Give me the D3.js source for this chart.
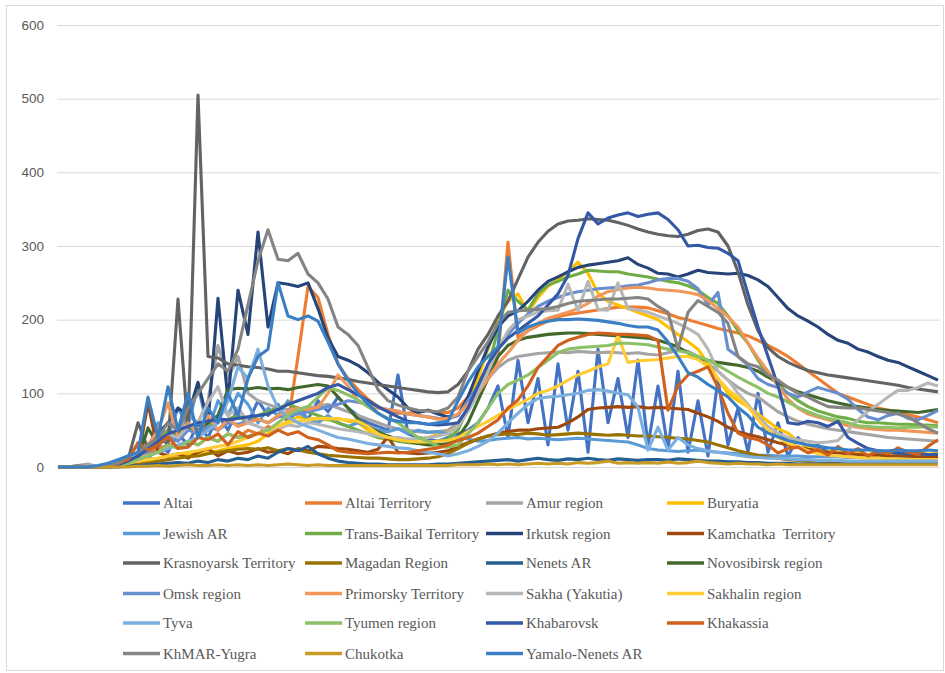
<!DOCTYPE html>
<html>
<head>
<meta charset="utf-8">
<script src="https://cdn.jsdelivr.net/npm/d3@7"></script>
<style>
  body { margin: 0; background: #fff; }
  svg text { fill: #595959; }
</style>
</head>
<body>
<div id="chart-container"></div>
<script>
const altai = [0,0,0,0,0,1,3,6,8,10, 30,20,45,30,60,40,70,50,80,60, 90,70,85,60,80,65,90,75,95,80, 70,60,55,50,125,45,40,38,35,40, 45,50,60,80,110,40,145,60,120,30, 140,50,130,20,160,60,120,40,145,30, 110,25,130,20,90,15,120,30,80,20, 100,20,60,15,40,25,30,20,25,18, 20,15,18,14,16,12,14,12,12];
const altaiTerritory = [0,0,0,0,0,2,5,10,15,20, 25,30,28,35,30,40,35,45,40,50, 45,55,50,60,150,245,230,180,140,120, 105,92,82,76,73,73,75,77,74,74, 80,95,115,135,150,305,176,185,192,198, 204,207,209,211,213,215,217,217,217,216, 212,208,203,200,196,192,188,185,182,178, 172,165,158,150,140,130,120,110,100,95, 90,85,80,77,74,71,68,64,60];
const amur = [0,0,2,4,0,2,5,12,20,30, 40,50,45,70,60,90,165,120,150,100, 90,85,80,78,75,80,82,85,80,75, 70,65,60,55,52,50,48,47,48,50, 60,80,100,120,135,145,150,152,154,155, 156,155,157,156,155,156,155,154,155,153, 152,155,158,157,150,140,130,118,108,100, 95,85,75,68,62,58,55,52,50,48, 46,44,42,40,39,38,37,36,35];
const buryatia = [0,0,0,0,0,2,4,6,8,10, 12,15,14,18,16,20,22,25,28,30, 35,45,55,62,68,66,65,64,66,62, 60,50,40,37,36,37,38,40,44,46, 55,80,120,160,200,225,235,210,230,245, 255,265,278,263,236,225,220,215,210,205, 200,190,180,170,160,140,120,100,90,82, 72,62,52,46,35,27,22,20,24,18, 20,16,22,18,20,15,22,17,20];
const jewishAR = [0,0,0,0,1,3,8,15,30,20, 60,40,80,55,110,50,90,70,100,85, 60,80,70,90,75,65,60,70,60,55, 60,55,50,48,52,45,50,47,48,45, 40,38,35,36,38,39,40,38,39,38, 37,38,39,38,37,36,35,34,30,25, 23,22,21,22,23,21,20,19,18,17, 16,16,15,15,15,14,14,14,14,13, 13,13,13,13,12,12,12,12,12];
const transBaikal = [0,0,0,0,0,1,3,8,15,25, 35,50,40,55,45,60,50,65,70,60, 70,75,80,85,80,75,70,65,60,55, 50,45,40,38,35,33,32,33,35,38, 50,80,110,136,186,240,225,213,235,247, 252,258,262,267,266,265,265,262,260,258, 255,252,250,246,240,230,222,205,185,168, 145,125,112,100,90,82,76,72,68,66, 62,60,60,59,58,58,57,57,56];
const irkutsk = [0,0,0,0,0,0,2,5,20,30, 45,60,80,70,115,60,229,90,240,180, 319,190,250,248,245,250,215,175,150,145, 138,128,115,105,95,80,74,77,72,68, 70,95,130,163,190,205,212,225,240,252, 258,265,271,274,276,278,280,284,275,270, 263,262,258,262,267,264,263,262,263,260, 254,245,230,215,205,198,190,180,172,168, 160,156,150,145,142,136,130,124,118];
const kamchatka = [0,0,0,0,0,0,2,5,10,87, 20,15,18,12,20,25,15,22,18,20, 25,20,22,18,25,22,28,27,25,24, 22,20,24,41,20,19,18,19,20,22, 28,33,38,42,46,48,50,50,52,53, 54,60,68,78,80,81,82,81,82,80, 81,80,79,78,73,68,62,54,48,44, 41,37,33,30,27,24,22,20,19,18, 17,16,16,15,15,15,14,14,14];
const krasnoyarsk = [0,0,0,0,0,1,3,10,60,25, 45,30,228,50,505,150,148,140,138,136, 135,133,130,130,128,126,124,123,121,119, 116,114,112,110,108,106,104,102,101,102, 112,130,160,180,205,225,255,285,305,320, 330,334,335,337,336,335,332,328,323,319, 316,314,313,316,321,323,319,300,265,220, 185,162,150,142,136,131,128,125,123,121, 119,117,115,113,111,108,106,104,102];
const magadan = [0,0,0,0,0,0,1,2,4,6, 8,10,12,14,15,18,20,22,24,25, 24,26,22,25,23,20,18,16,15,14, 13,12,12,11,10,10,11,12,14,18, 25,32,38,42,44,45,44,46,45,43, 44,45,46,45,44,43,44,43,42,42, 41,40,39,38,36,34,30,26,22,19, 16,14,12,10,9,8,8,7,7,6, 6,6,5,5,5,5,5,5,5];
const nenetsAR = [0,0,0,0,0,0,0,1,2,3, 4,5,6,5,8,6,10,8,12,10, 15,12,20,25,22,28,18,12,8,6, 5,4,4,3,3,3,3,3,4,4, 5,6,7,8,9,10,8,10,12,10, 9,11,10,12,10,9,11,10,9,10, 10,9,11,10,9,8,8,7,7,6, 6,5,5,5,4,4,4,4,4,4, 4,4,4,4,4,4,4,4,4];
const novosibirsk = [0,0,0,0,0,0,2,5,10,53, 30,40,45,55,50,60,70,105,107,106, 108,106,107,105,108,110,112,110,95,80, 65,55,48,42,38,35,32,30,30,32, 40,60,90,120,150,165,172,176,178,180, 181,182,182,181,180,179,178,177,176,175, 172,168,163,155,148,145,142,140,138,135, 130,122,115,108,102,98,94,90,87,84, 82,80,78,77,76,75,74,76,78];
const omsk = [0,0,0,0,0,1,3,8,15,22, 30,40,35,50,45,55,50,60,58,62, 65,60,68,70,72,75,78,82,85,90, 88,85,80,78,75,72,70,68,66,65, 70,90,110,135,160,180,195,208,218,225, 230,235,238,240,242,243,244,246,247,250, 254,256,256,252,242,220,237,160,150,138, 120,112,108,100,95,102,108,104,100,92, 78,68,64,70,73,66,64,70,77];
const primorsky = [0,0,0,0,0,2,5,10,20,30, 50,87,40,60,45,70,50,65,55,60, 65,60,70,75,80,78,81,100,125,110, 90,82,80,78,76,72,70,68,65,66, 72,85,100,120,140,155,172,185,195,202, 206,210,215,222,232,238,241,243,244,243, 241,240,239,237,234,226,215,204,190,168, 148,130,110,92,80,72,68,64,60,56, 54,52,51,50,50,49,48,47,46];
const sakha = [0,0,1,0,0,2,5,10,18,25, 35,45,40,55,60,88,109,70,80,60, 55,50,52,57,55,60,58,55,52,50, 48,45,42,40,40,38,38,40,42,45, 55,75,100,130,160,185,200,205,210,212, 213,248,212,252,214,213,250,215,213,210, 205,200,195,188,180,160,130,118,100,85, 68,55,46,40,37,35,33,34,36,50, 64,76,85,95,104,104,108,114,110];
const sakhalin = [0,0,0,0,0,1,2,5,8,10, 12,15,18,20,22,25,28,30,35,40, 45,50,55,60,62,64,66,66,65,64, 62,55,45,40,37,35,34,34,35,36, 40,48,55,62,70,78,85,92,100,104, 110,118,125,130,136,140,178,142,144,145, 146,148,150,150,146,136,120,105,95,82, 64,50,40,32,28,22,18,16,15,14, 13,12,12,11,11,10,10,10,10];
const tyva = [0,0,0,0,0,1,3,6,10,15, 20,25,30,35,40,50,60,90,136,120, 160,110,80,68,60,55,50,45,40,38, 35,32,30,28,26,25,22,20,18,15, 18,22,28,35,46,60,73,85,93,95, 96,98,100,104,105,103,100,98,81,23, 54,23,40,30,25,22,20,18,16,14, 13,12,12,11,10,10,9,9,9,8, 8,8,8,8,8,8,8,8,8];
const tyumen = [0,0,0,0,0,0,2,5,10,15, 20,30,25,35,30,40,35,45,40,42, 45,50,60,70,78,82,95,107,104,98, 91,82,73,66,60,50,40,35,28,27, 30,45,60,80,100,112,118,125,135,145, 155,160,162,163,164,165,168,168,167,166, 163,160,158,155,150,145,138,130,122,115, 108,100,95,88,81,75,70,66,63,60, 56,55,54,54,53,54,54,55,54];
const khabarovsk = [0,0,0,0,0,1,3,8,15,25, 35,45,50,55,60,62,65,64,66,68, 70,72,78,85,90,95,100,108,112,105, 98,90,82,75,68,62,60,58,57,58, 60,80,110,140,160,175,185,195,205,220, 235,260,310,345,330,338,342,345,340,343, 345,336,322,300,301,298,297,290,280,235, 190,150,110,60,58,62,60,55,62,40, 32,25,22,20,19,18,18,17,17];
const khakassia = [0,0,0,0,0,2,5,10,33,23, 30,41,25,27,40,37,45,30,48,40, 46,42,50,44,48,40,37,30,22,20, 19,18,19,20,19,20,22,24,26,30, 36,40,46,55,64,80,91,110,135,150, 165,172,176,180,182,181,180,180,179,178, 172,77,110,125,130,136,108,73,46,40, 37,30,19,25,27,19,24,16,28,18, 25,15,22,18,26,20,17,28,37];
const khmarYugra = [0,0,2,0,1,2,5,15,20,30, 40,60,50,80,100,120,140,130,160,220, 280,322,282,280,290,262,250,228,190,180, 165,135,105,90,84,80,77,76,75,80, 95,130,150,170,195,210,212,213,214,215, 218,222,225,226,227,228,228,229,230,228, 218,210,160,210,226,218,210,195,150,140, 136,125,118,108,100,95,88,82,81,80, 80,78,76,74,72,68,60,52,46];
const chukotka = [0,0,0,0,0,0,0,0,1,1, 2,1,2,3,2,2,3,2,3,2, 3,2,3,4,3,2,3,2,2,2, 2,2,2,2,2,2,2,2,2,2, 3,3,3,4,3,4,3,4,5,4, 5,4,6,5,6,8,5,6,5,6, 5,7,5,6,8,6,5,4,5,4, 4,3,4,3,3,3,3,3,3,3, 3,3,3,3,3,3,3,3,3];
const yamaloNenets = [0,0,0,0,2,5,10,15,20,95, 40,109,50,100,40,80,60,100,70,120, 150,160,250,205,200,205,198,170,140,118, 100,85,73,65,62,60,60,58,60,62, 90,115,136,150,163,285,182,190,195,198, 200,200,201,200,199,197,195,192,190,190, 186,170,150,128,122,112,104,95,81,70, 54,46,41,36,33,30,28,26,25,23, 23,23,22,22,23,22,22,23,22];

const seriesNames = ["Altai", "Altai Territory", "Amur region", "Buryatia",
  "Jewish AR", "Trans-Baikal Territory", "Irkutsk region", "Kamchatka  Territory",
  "Krasnoyarsk Territory", "Magadan Region", "Nenets AR", "Novosibirsk region",
  "Omsk region", "Primorsky Territory", "Sakha (Yakutia)", "Sakhalin region",
  "Tyva", "Tyumen region", "Khabarovsk", "Khakassia",
  "KhMAR-Yugra", "Chukotka", "Yamalo-Nenets AR"];
const seriesValues = [altai, altaiTerritory, amur, buryatia, jewishAR, transBaikal,
  irkutsk, kamchatka, krasnoyarsk, magadan, nenetsAR, novosibirsk, omsk, primorsky,
  sakha, sakhalin, tyva, tyumen, khabarovsk, khakassia, khmarYugra, chukotka, yamaloNenets];
const yTicks = [0, 100, 200, 300, 400, 500, 600];

const colors = ["#4472C4", "#ED7D31", "#A5A5A5", "#FFC000", "#5B9BD5", "#70AD47",
  "#264478", "#9E480E", "#636363", "#997300", "#255E91", "#43682B",
  "#698ED0", "#F1975A", "#B7B7B7", "#FFCD33", "#7CAFDD", "#8CC168",
  "#3358A5", "#D0621E", "#848484", "#C99A26", "#3A7FC4"];

const W = 945, H = 673;
const svg = d3.select("#chart-container")
    .append("svg")
    .attr("width", W)
    .attr("height", H);

svg.append("rect")
    .attr("x", 6.5).attr("y", 5.5)
    .attr("width", 937).attr("height", 665)
    .attr("fill", "#fff")
    .attr("stroke", "#d9d9d9");

const n = altai.length;
const x = d3.scaleLinear().domain([0, n - 1]).range([58, 938]);
const y = d3.scaleLinear().domain([0, 600]).range([467, 25]);

// gridlines + y labels
const yAxis = svg.append("g")
    .attr("transform", "translate(57,0)")
    .call(d3.axisLeft(y).tickValues(yTicks).tickSize(-883).tickPadding(13));
yAxis.select(".domain").remove();
yAxis.selectAll(".tick line").attr("stroke", "#d9d9d9");
yAxis.selectAll(".tick text")
    .attr("font-family", "'Liberation Sans', Arial, sans-serif")
    .attr("font-size", 13.5)
    .attr("fill", "#595959");

const line = d3.line()
    .x((d, i) => x(i))
    .y(d => y(d));

svg.append("g")
    .selectAll("path")
    .data(seriesValues)
    .join("path")
    .attr("fill", "none")
    .attr("stroke", (d, i) => colors[i])
    .attr("stroke-width", 3.1)
    .attr("stroke-linejoin", "round")
    .attr("d", line);

// legend, 4 columns
const colX = [123, 305, 486, 667];
const rowY = [503, 533.5, 563, 593.5, 623, 653.5];
const legend = svg.append("g")
    .selectAll("g")
    .data(seriesNames)
    .join("g")
    .attr("transform", (d, i) => `translate(${colX[i % 4]},${rowY[Math.floor(i / 4)]})`);
legend.append("line")
    .attr("x1", 0).attr("x2", 37)
    .attr("stroke", (d, i) => colors[i])
    .attr("stroke-width", 3.5);
legend.append("text")
    .attr("x", 40)
    .attr("dy", "0.35em")
    .attr("font-family", "'Liberation Serif', 'Times New Roman', serif")
    .attr("font-size", 15)
    .attr("fill", "#595959")
    .style("white-space", "pre")
    .text(d => d);
</script>
</body>
</html>
